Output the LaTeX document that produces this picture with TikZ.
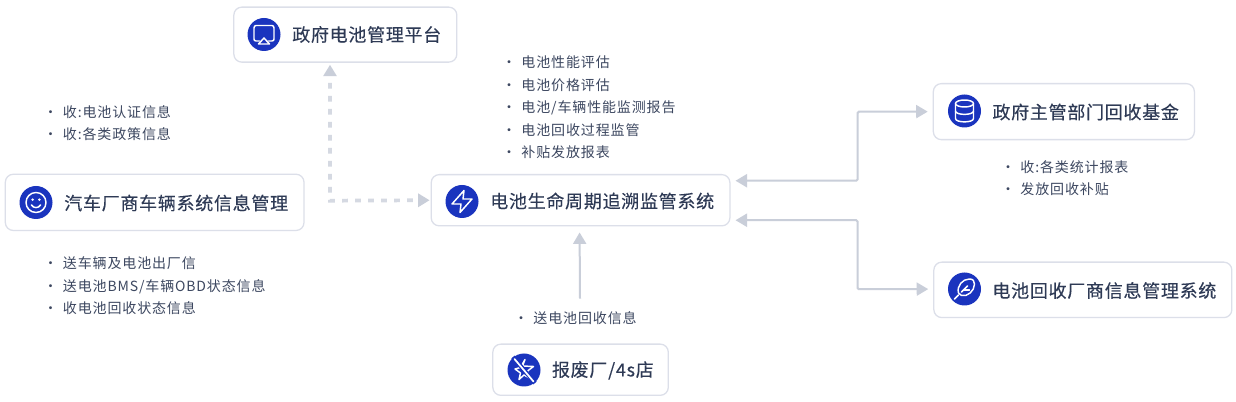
\documentclass[tikz,border=0pt]{standalone}
\usepackage{fontspec}
\setmainfont{Noto Sans CJK SC}
\newfontfamily\titlefont[LetterSpace=4,FakeBold=0.25]{Noto Sans CJK SC}
\newfontfamily\smallfont[LetterSpace=6.2]{Noto Sans CJK SC}
\usetikzlibrary{arrows.meta,calc}
\definecolor{boxline}{HTML}{DCDFE9}
\definecolor{conn}{HTML}{C9CED9}
\definecolor{dashink}{HTML}{D5D9E2}
\definecolor{blueicon}{HTML}{1A34BE}
\definecolor{titleink}{HTML}{2E3A55}
\definecolor{listink}{HTML}{3C4760}
\tikzset{
  x=0.75pt,y=-0.75pt,
  card/.style={draw=boxline,line width=0.95pt,rounded corners=6pt,fill=white,anchor=north west,inner sep=0pt},
  title/.style={anchor=west,inner sep=0pt,text=titleink,font=\titlefont\fontsize{13.5}{16}\selectfont},
  list/.style={anchor=west,inner sep=0pt,align=left,text=listink,font=\smallfont\fontsize{10.5}{16.9}\selectfont},
  badge/.style={circle,fill=blueicon,minimum size=24.75pt,inner sep=0pt},
  glyph/.style={draw=white,line width=1.1pt,line join=round,line cap=round},
  link/.style={draw=conn,line width=1.5pt,{Triangle[length=8.6pt,width=9.75pt]}-{Triangle[length=8.6pt,width=9.75pt]}},
  single/.style={draw=conn,line width=1.5pt,-{Triangle[length=8.6pt,width=9.75pt]}},
  dots/.style={draw=dashink,line width=2.8pt,dash pattern=on 4.2pt off 5.55pt,dash phase=4.2pt,
    {Triangle[length=8.6pt,width=9.75pt,color=conn]}-{Triangle[length=8.6pt,width=9.75pt,color=conn]}}
}
\newcommand{\dotmark}{\makebox[11pt][l]{\kern-3.5pt·}}
\begin{document}
\begin{tikzpicture}
\useasboundingbox (0,0) rectangle (1236,402);
\fill[white] (0,0) rectangle (1236,402);
% cards
\node[card,minimum width=167.25pt,minimum height=41.25pt] (gov) at (233.2,6.5) {};
\node[card,minimum width=224pt,minimum height=42.2pt] (car) at (4.7,173.6) {};
\node[card,minimum width=224pt,minimum height=38.4pt] (mon) at (430.6,174) {};
\node[card,minimum width=131.6pt,minimum height=38.4pt] (scrap) at (492.2,343.5) {};
\node[card,minimum width=195.8pt,minimum height=42pt] (fund) at (932.7,83) {};
\node[card,minimum width=223.5pt,minimum height=41.6pt] (rec) at (933.2,261.5) {};
% badges
\node[badge] (gi) at (264,34.5) {};
\node[badge] (ci) at (36,202.5) {};
\node[badge] (mi) at (462,201.5) {};
\node[badge] (si) at (524,370) {};
\node[badge] (fi) at (964.5,111) {};
\node[badge] (ri) at (964.5,289) {};
% monitor glyph
\begin{scope}[shift={(gi.center)}]
\draw[glyph] (-4.5,6.5) -- (-8,6.5) .. controls (-9.5,6.5) and (-10,5.5) .. (-10,4.5) -- (-10,-6.5) .. controls (-10,-8) and (-9,-9) .. (-8,-9) -- (8,-9) .. controls (9,-9) and (10,-8) .. (10,-6.5) -- (10,4.5) .. controls (10,5.5) and (9.5,6.5) .. (8,6.5) -- (4.5,6.5);
\draw[glyph] (0,3.5) -- (5.5,9.5) -- (-5.5,9.5) -- cycle;
\end{scope}
% smile glyph
\begin{scope}[shift={(ci.center)}]
\draw[glyph] (0,0) circle (10);
\fill[white] (-3.4,-2.8) circle (1.4) (3.4,-2.8) circle (1.4);
\draw[glyph] (-4.5,2.5) .. controls (-2.5,6) and (2.5,6) .. (4.5,2.5);
\end{scope}
% bolt glyph
\begin{scope}[shift={(mi.center)}]
\draw[glyph] (2,-11) -- (-10,2.5) -- (-1,2.5) -- (-2,11) -- (10,-2.5) -- (1,-2.5) -- cycle;
\end{scope}
% crossed star glyph
\begin{scope}[shift={(si.center)}]
\draw[glyph] (1,-10.5) -- (-1.5,-4) -- (9.5,-3.5) -- (3.5,1) -- (5.5,8) -- (0,5) -- (-5,9.5) -- (-3.5,3) -- (-9,-1) -- (-3.5,-2.5) -- cycle;
\draw[blueicon,line width=3.2pt] (-11,-13) -- (11,13);
\draw[glyph,line width=1.3pt] (-9.5,-11) -- (9.5,11.5);
\end{scope}
% database glyph
\begin{scope}[shift={(fi.center)}]
\draw[glyph] (0,-7.5) ellipse (9 and 3.5);
\draw[glyph] (-9,-7.5) -- (-9,7.5) .. controls (-9,12) and (9,12) .. (9,7.5) -- (9,-7.5);
\draw[glyph] (-9,0) .. controls (-9,4.5) and (9,4.5) .. (9,0);
\end{scope}
% feather glyph
\begin{scope}[shift={(ri.center)}]
\draw[glyph] (-6,4) .. controls (-8,-3) and (-2,-10) .. (5,-10) .. controls (8.5,-10) and (10,-8) .. (10,-5) .. controls (10,2) and (3,8) .. (-3,6.5) -- (-6,4);
\draw[glyph] (-10,10) -- (-6,6);
\draw[glyph] (-3,3) -- (3,-3);
\draw[glyph] (-1,1) -- (5,1);
\end{scope}
% titles
\node[title] (gt) at (292,34.5) {政府电池管理平台};
\node[title] (ct) at (64,203) {汽车厂商车辆系统信息管理};
\node[title] (mt) at (490,201) {电池生命周期追溯监管系统};
\node[title] (st) at (551.7,370.5) {报废厂/4s店};
\node[title] (ft) at (992.2,112) {政府主管部门回收基金};
\node[title] (rt) at (992.2,290.5) {电池回收厂商信息管理系统};
% lists
\node[list] (l1) at (506.5,107.5) {\dotmark 电池性能评估\\\dotmark 电池价格评估\\\dotmark 电池/车辆性能监测报告\\\dotmark 电池回收过程监管\\\dotmark 补贴发放报表};
\node[list] (l2) at (48,123.3) {\dotmark 收:电池认证信息\\\dotmark 收:各类政策信息};
\node[list] (l3) at (48,286) {\dotmark 送车辆及电池出厂信\\\dotmark 送电池BMS/车辆OBD状态信息\\\dotmark 收电池回收状态信息};
\node[list] (l4) at (1005.5,178.3) {\dotmark 收:各类统计报表\\\dotmark 发放回收补贴};
\node[list] (l5) at (518.5,318.5) {\dotmark 送电池回收信息};
% connectors
\coordinate (bend) at (330,200.7);
\draw[dots] ($(gov.south west)+(96.8,2)$) -- (bend) -- ($(mon.west)+(-1,0)$ |- bend);
\draw[link,rounded corners=1pt] ($(mon.east)+(5,-19.5)$) -- ++(122,0) -- ++(0,-69) -- ($(fund.west)+(-5,0)$);
\draw[link,rounded corners=1pt] ($(mon.east)+(5,20)$) -- ++(122,0) -- ++(0,69) -- ($(rec.west)+(-5,-0.75)$);
\draw[single] ($(l5.north west)+(61.5,-13)$) -- ($(mon.south west)+(149,6)$);
\end{tikzpicture}
\end{document}
